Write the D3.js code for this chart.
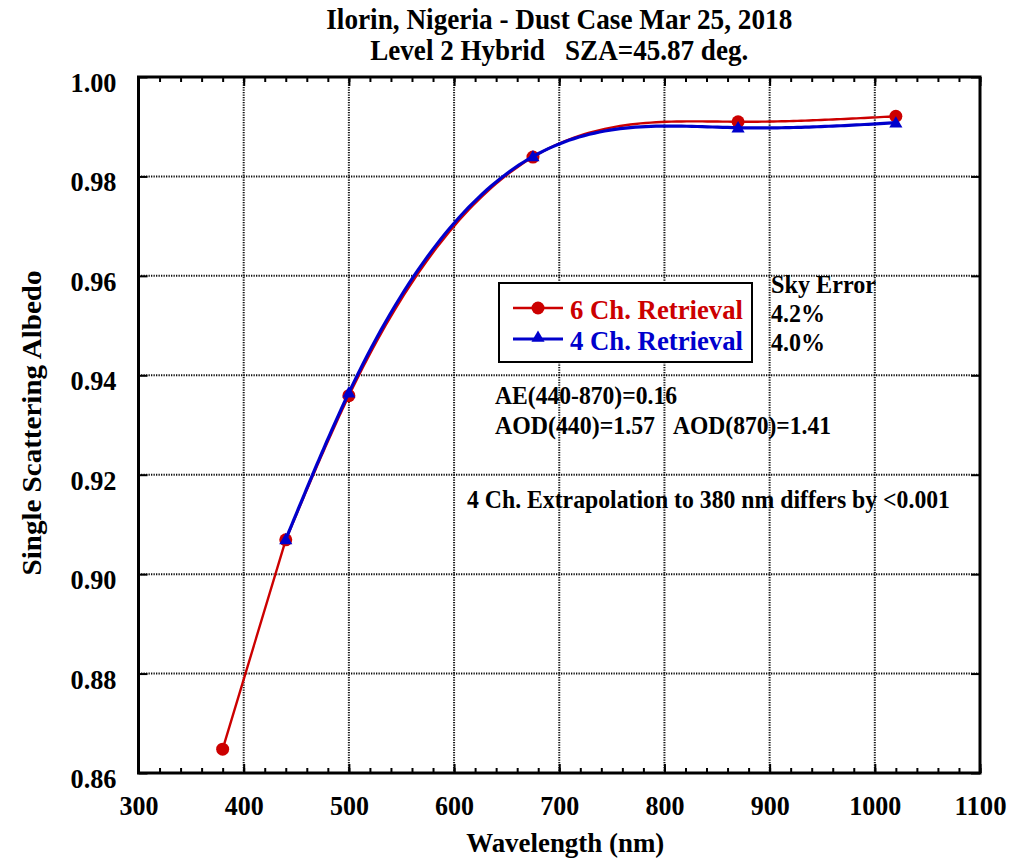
<!DOCTYPE html>
<html><head><meta charset="utf-8">
<script src="https://cdn.jsdelivr.net/npm/d3@7/dist/d3.min.js"></script>
<style>
body{margin:0;background:#fff;}
text{font-family:"Liberation Serif","Times New Roman",serif;font-weight:bold;}
</style></head>
<body><svg id="chart" width="1029" height="860"></svg>
<script>
// ---- data ----
const wl6 = [380, 440, 500, 675, 870, 1020];
const ssa6 = [0.8648, 0.9069, 0.9359, 0.9839, 0.9910, 0.9921];
const wl4 = [440, 500, 675, 870, 1020];
const ssa4 = [0.9070, 0.9365, 0.9840, 0.9898, 0.9908];
const xTicks = [300, 400, 500, 600, 700, 800, 900, 1000, 1100];
const yTicks = [0.86, 0.88, 0.90, 0.92, 0.94, 0.96, 0.98, 1.00];
const titleLines = ["Ilorin, Nigeria - Dust Case Mar 25, 2018", "Level 2 Hybrid   SZA=45.87 deg."];
const seriesNames = ["6 Ch. Retrieval", "4 Ch. Retrieval"];
const skyErrors = ["4.2%", "4.0%"];
const notes = ["AE(440-870)=0.16", "AOD(440)=1.57", "AOD(870)=1.41", "4 Ch. Extrapolation to 380 nm differs by <0.001"];

const svg = d3.select("#chart");
const L = 138.5, R = 980, T = 77, B = 773;
const x = d3.scaleLinear().domain([300, 1100]).range([L, R]);
const y = d3.scaleLinear().domain([0.86, 1.00]).range([B, T]);
const red = "#cc0000", blue = "#0000cc";

// natural cubic spline rendering helper (data space)
function spline(xs, ys) {
  const n = xs.length, h = [], a = [], l = [1], mu = [0], z = [0], c = new Array(n).fill(0), b = [], d = [];
  for (let i = 0; i < n - 1; i++) h.push(xs[i+1] - xs[i]);
  for (let i = 1; i < n - 1; i++) a[i] = 3/h[i]*(ys[i+1]-ys[i]) - 3/h[i-1]*(ys[i]-ys[i-1]);
  for (let i = 1; i < n - 1; i++) {
    l[i] = 2*(xs[i+1]-xs[i-1]) - h[i-1]*mu[i-1];
    mu[i] = h[i]/l[i];
    z[i] = (a[i] - h[i-1]*z[i-1])/l[i];
  }
  for (let j = n - 2; j >= 0; j--) {
    c[j] = (j > 0 ? z[j] : 0) - mu[j]*c[j+1];
  }
  c[0] = 0;
  for (let j = 0; j < n - 1; j++) {
    b[j] = (ys[j+1]-ys[j])/h[j] - h[j]*(c[j+1]+2*c[j])/3;
    d[j] = (c[j+1]-c[j])/(3*h[j]);
  }
  const pts = [];
  for (let i = 0; i < n - 1; i++) {
    const steps = 40;
    for (let s = 0; s < steps; s++) {
      const t = h[i]*s/steps;
      pts.push([xs[i]+t, ys[i] + b[i]*t + c[i]*t*t + d[i]*t*t*t]);
    }
  }
  pts.push([xs[n-1], ys[n-1]]);
  return pts;
}

// gridlines
const grid = svg.append("g").attr("stroke", "#111").attr("stroke-width", 2).attr("stroke-dasharray", "1.3,1.2");
grid.selectAll("line.v").data(xTicks.slice(1, -1)).join("line")
  .attr("x1", d => x(d)).attr("x2", d => x(d)).attr("y1", T).attr("y2", B);
grid.selectAll("line.h").data(yTicks.slice(1, -1)).join("line")
  .attr("x1", L).attr("x2", R).attr("y1", d => y(d)).attr("y2", d => y(d));

// axes
const minor = d3.range(300, 1101, 20);
const xb = svg.append("g").attr("transform", `translate(0,${B})`)
  .call(d3.axisBottom(x).tickValues(minor).tickSize(-5).tickFormat(""));
const xb2 = svg.append("g").attr("transform", `translate(0,${B})`)
  .call(d3.axisBottom(x).tickValues(xTicks).tickSize(-9).tickFormat(d3.format("d")));
const xt = svg.append("g").attr("transform", `translate(0,${T})`)
  .call(d3.axisTop(x).tickValues(minor).tickSize(-5).tickFormat(""));
const xt2 = svg.append("g").attr("transform", `translate(0,${T})`)
  .call(d3.axisTop(x).tickValues(xTicks).tickSize(-9).tickFormat(""));
const yl = svg.append("g").attr("transform", `translate(${L},0)`)
  .call(d3.axisLeft(y).tickValues(yTicks).tickSize(-9).tickPadding(22).tickFormat(d3.format(".2f")));
const yr = svg.append("g").attr("transform", `translate(${R},0)`)
  .call(d3.axisRight(y).tickValues(yTicks).tickSize(-9).tickFormat(""));
[xb, xb2, xt, xt2, yl, yr].forEach(g => {
  g.select(".domain").remove();
  g.selectAll(".tick line").attr("stroke", "#000").attr("stroke-width", 2);
  g.selectAll(".tick text").attr("fill", "#000").attr("font-size", 27)
    .attr("font-family", "Liberation Serif, serif").attr("font-weight", "bold");
});
xb2.selectAll(".tick text").attr("dy", null).attr("y", 42)
  .attr("textLength", d => String(d).length * 13).attr("lengthAdjust", "spacingAndGlyphs");
yl.selectAll(".tick text").attr("dy", "0.35em").attr("y", 5)
  .attr("textLength", 46).attr("lengthAdjust", "spacingAndGlyphs");
svg.append("rect").attr("x", L).attr("y", T).attr("width", R - L).attr("height", B - T)
  .attr("fill", "none").attr("stroke", "#000").attr("stroke-width", 3);

// series lines (6 Ch: straight segment to 380 nm, smooth spline over the rest)
const line = d3.line().x(d => x(d[0])).y(d => y(d[1]));
const redPts = [[wl6[0], ssa6[0]]].concat(spline(wl6.slice(1), ssa6.slice(1)));
svg.append("path").attr("d", line(redPts)).attr("fill", "none").attr("stroke", red).attr("stroke-width", 2.4);
svg.selectAll("circle.s6").data(wl6.map((w, i) => [w, ssa6[i]])).join("circle")
  .attr("cx", d => x(d[0])).attr("cy", d => y(d[1])).attr("r", 6.5).attr("fill", red);
svg.append("path").attr("d", line(spline(wl4, ssa4))).attr("fill", "none").attr("stroke", blue).attr("stroke-width", 3.2);
const tri = d3.symbol().type(d3.symbolTriangle).size(75);
svg.selectAll("path.s4").data(wl4.map((w, i) => [w, ssa4[i]])).join("path")
  .attr("d", tri).attr("transform", d => `translate(${x(d[0])},${y(d[1]) + 1})`).attr("fill", blue);

// legend
svg.append("rect").attr("x", 499).attr("y", 283).attr("width", 253).attr("height", 79)
  .attr("fill", "#fff").attr("stroke", "#000").attr("stroke-width", 2);
const leg = [{c: red, y: 308, n: seriesNames[0], m: "c"}, {c: blue, y: 339, n: seriesNames[1], m: "t"}];
leg.forEach(e => {
  svg.append("line").attr("x1", 513).attr("x2", 563).attr("y1", e.y).attr("y2", e.y)
    .attr("stroke", e.c).attr("stroke-width", e.m === "c" ? 2.4 : 3.2);
  if (e.m === "c") svg.append("circle").attr("cx", 538).attr("cy", e.y).attr("r", 6.5).attr("fill", e.c);
  else svg.append("path").attr("d", tri).attr("transform", `translate(538,${e.y - 1})`).attr("fill", e.c);
  svg.append("text").attr("x", 570).attr("y", e.y + 11).attr("font-size", 27).attr("fill", e.c)
    .attr("textLength", 173).attr("lengthAdjust", "spacingAndGlyphs").text(e.n);
});
svg.append("text").attr("x", 771).attr("y", 293).attr("font-size", 25).attr("textLength", 105).attr("lengthAdjust", "spacingAndGlyphs").text("Sky Error");
svg.append("text").attr("x", 771).attr("y", 322).attr("font-size", 25).attr("textLength", 54).attr("lengthAdjust", "spacingAndGlyphs").text(skyErrors[0]);
svg.append("text").attr("x", 771).attr("y", 351).attr("font-size", 25).attr("textLength", 54).attr("lengthAdjust", "spacingAndGlyphs").text(skyErrors[1]);

// notes
svg.append("text").attr("x", 495).attr("y", 404).attr("font-size", 25).attr("textLength", 182).attr("lengthAdjust", "spacingAndGlyphs").text(notes[0]);
svg.append("text").attr("x", 495).attr("y", 434).attr("font-size", 25).attr("textLength", 160).attr("lengthAdjust", "spacingAndGlyphs").text(notes[1]);
svg.append("text").attr("x", 673).attr("y", 434).attr("font-size", 25).attr("textLength", 158).attr("lengthAdjust", "spacingAndGlyphs").text(notes[2]);
svg.append("text").attr("x", 467).attr("y", 508).attr("font-size", 25).attr("textLength", 483).attr("lengthAdjust", "spacingAndGlyphs").text(notes[3]);

// titles
const cx = (L + R) / 2;
svg.append("text").attr("x", cx).attr("y", 29).attr("text-anchor", "middle").attr("font-size", 29)
  .attr("textLength", 466).attr("lengthAdjust", "spacingAndGlyphs").text(titleLines[0]);
svg.append("text").attr("x", cx).attr("y", 60).attr("text-anchor", "middle").attr("font-size", 29)
  .attr("textLength", 378).attr("lengthAdjust", "spacingAndGlyphs").style("white-space", "pre").text(titleLines[1]);
svg.append("text").attr("x", cx + 6).attr("y", 852).attr("text-anchor", "middle").attr("font-size", 28)
  .attr("textLength", 198).attr("lengthAdjust", "spacingAndGlyphs").text("Wavelength (nm)");
svg.append("text").attr("transform", `translate(41,${(T + B) / 2 - 2}) rotate(-90)`).attr("text-anchor", "middle").attr("font-size", 28)
  .attr("textLength", 305).attr("lengthAdjust", "spacingAndGlyphs").text("Single Scattering Albedo");
</script></body></html>
